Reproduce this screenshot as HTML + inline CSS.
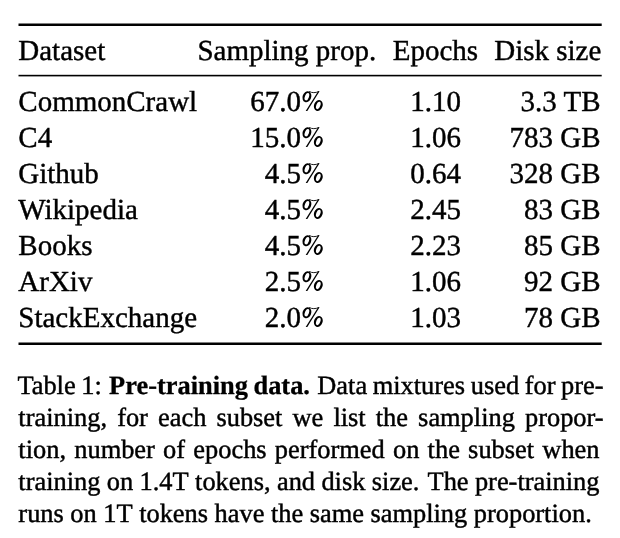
<!DOCTYPE html>
<html><head><meta charset="utf-8"><style>
html,body{margin:0;padding:0;background:#fff;}
body{width:620px;height:538px;overflow:hidden;}
svg{display:block;will-change:transform;}
text{font-family:"Liberation Serif",serif;fill:#000;stroke:#000;text-rendering:geometricPrecision;white-space:pre;}
.b{font-weight:bold;stroke-width:0.3px;}
</style></head><body>
<svg width="620" height="538" viewBox="0 0 620 538">

<rect x="18.5" y="23.5" width="583.2" height="2.5" fill="#000"/>
<rect x="18.5" y="74.8" width="583.2" height="1.6" fill="#000"/>
<rect x="18.5" y="342.5" width="583.2" height="2.5" fill="#000"/>
<g font-size="29.0" stroke-width="0.42">
<text x="18.30" y="59.80">Dataset</text>
<text x="197.40" y="59.80">Sampling prop.</text>
<text x="392.70" y="59.80">Epochs</text>
<text x="494.20" y="59.80">Disk size</text>
<text x="18.30" y="111.00">CommonCrawl</text>
<text x="301.10" y="111.00" text-anchor="end">67.0</text>
<g transform="translate(300.40 111.00)">
<g transform="rotate(20 6.5 -14.3)"><path fill-rule="evenodd" d="M2.20,-14.3 A4.3,5.6 0 1,0 10.80,-14.3 A4.3,5.6 0 1,0 2.20,-14.3 Z M4.50,-14.3 A2.0,3.9 0 1,0 8.50,-14.3 A2.0,3.9 0 1,0 4.50,-14.3 Z"/></g>
<g transform="rotate(20 17.9 -5.6)"><path fill-rule="evenodd" d="M13.60,-5.6 A4.3,5.6 0 1,0 22.20,-5.6 A4.3,5.6 0 1,0 13.60,-5.6 Z M15.90,-5.6 A2.0,3.9 0 1,0 19.90,-5.6 A2.0,3.9 0 1,0 15.90,-5.6 Z"/></g>
<path d="M5.3,0.1 L6.9,0.1 L19.2,-19.7 L17.7,-19.8 Z"/>
<path d="M8.8,-19.6 C11.5,-17.9 15.2,-18.0 18.4,-19.5" fill="none" stroke="#000" stroke-width="0.9"/>
</g>
<text x="435.60" y="111.00" text-anchor="middle">1.10</text>
<text x="600.50" y="111.00" text-anchor="end">3.3 TB</text>
<text x="18.30" y="147.00">C4</text>
<text x="301.10" y="147.00" text-anchor="end">15.0</text>
<g transform="translate(300.40 147.00)">
<g transform="rotate(20 6.5 -14.3)"><path fill-rule="evenodd" d="M2.20,-14.3 A4.3,5.6 0 1,0 10.80,-14.3 A4.3,5.6 0 1,0 2.20,-14.3 Z M4.50,-14.3 A2.0,3.9 0 1,0 8.50,-14.3 A2.0,3.9 0 1,0 4.50,-14.3 Z"/></g>
<g transform="rotate(20 17.9 -5.6)"><path fill-rule="evenodd" d="M13.60,-5.6 A4.3,5.6 0 1,0 22.20,-5.6 A4.3,5.6 0 1,0 13.60,-5.6 Z M15.90,-5.6 A2.0,3.9 0 1,0 19.90,-5.6 A2.0,3.9 0 1,0 15.90,-5.6 Z"/></g>
<path d="M5.3,0.1 L6.9,0.1 L19.2,-19.7 L17.7,-19.8 Z"/>
<path d="M8.8,-19.6 C11.5,-17.9 15.2,-18.0 18.4,-19.5" fill="none" stroke="#000" stroke-width="0.9"/>
</g>
<text x="435.60" y="147.00" text-anchor="middle">1.06</text>
<text x="600.50" y="147.00" text-anchor="end">783 GB</text>
<text x="18.30" y="183.00">Github</text>
<text x="301.10" y="183.00" text-anchor="end">4.5</text>
<g transform="translate(300.40 183.00)">
<g transform="rotate(20 6.5 -14.3)"><path fill-rule="evenodd" d="M2.20,-14.3 A4.3,5.6 0 1,0 10.80,-14.3 A4.3,5.6 0 1,0 2.20,-14.3 Z M4.50,-14.3 A2.0,3.9 0 1,0 8.50,-14.3 A2.0,3.9 0 1,0 4.50,-14.3 Z"/></g>
<g transform="rotate(20 17.9 -5.6)"><path fill-rule="evenodd" d="M13.60,-5.6 A4.3,5.6 0 1,0 22.20,-5.6 A4.3,5.6 0 1,0 13.60,-5.6 Z M15.90,-5.6 A2.0,3.9 0 1,0 19.90,-5.6 A2.0,3.9 0 1,0 15.90,-5.6 Z"/></g>
<path d="M5.3,0.1 L6.9,0.1 L19.2,-19.7 L17.7,-19.8 Z"/>
<path d="M8.8,-19.6 C11.5,-17.9 15.2,-18.0 18.4,-19.5" fill="none" stroke="#000" stroke-width="0.9"/>
</g>
<text x="435.60" y="183.00" text-anchor="middle">0.64</text>
<text x="600.50" y="183.00" text-anchor="end">328 GB</text>
<text x="18.30" y="219.00">Wikipedia</text>
<text x="301.10" y="219.00" text-anchor="end">4.5</text>
<g transform="translate(300.40 219.00)">
<g transform="rotate(20 6.5 -14.3)"><path fill-rule="evenodd" d="M2.20,-14.3 A4.3,5.6 0 1,0 10.80,-14.3 A4.3,5.6 0 1,0 2.20,-14.3 Z M4.50,-14.3 A2.0,3.9 0 1,0 8.50,-14.3 A2.0,3.9 0 1,0 4.50,-14.3 Z"/></g>
<g transform="rotate(20 17.9 -5.6)"><path fill-rule="evenodd" d="M13.60,-5.6 A4.3,5.6 0 1,0 22.20,-5.6 A4.3,5.6 0 1,0 13.60,-5.6 Z M15.90,-5.6 A2.0,3.9 0 1,0 19.90,-5.6 A2.0,3.9 0 1,0 15.90,-5.6 Z"/></g>
<path d="M5.3,0.1 L6.9,0.1 L19.2,-19.7 L17.7,-19.8 Z"/>
<path d="M8.8,-19.6 C11.5,-17.9 15.2,-18.0 18.4,-19.5" fill="none" stroke="#000" stroke-width="0.9"/>
</g>
<text x="435.60" y="219.00" text-anchor="middle">2.45</text>
<text x="600.50" y="219.00" text-anchor="end">83 GB</text>
<text x="18.30" y="255.00">Books</text>
<text x="301.10" y="255.00" text-anchor="end">4.5</text>
<g transform="translate(300.40 255.00)">
<g transform="rotate(20 6.5 -14.3)"><path fill-rule="evenodd" d="M2.20,-14.3 A4.3,5.6 0 1,0 10.80,-14.3 A4.3,5.6 0 1,0 2.20,-14.3 Z M4.50,-14.3 A2.0,3.9 0 1,0 8.50,-14.3 A2.0,3.9 0 1,0 4.50,-14.3 Z"/></g>
<g transform="rotate(20 17.9 -5.6)"><path fill-rule="evenodd" d="M13.60,-5.6 A4.3,5.6 0 1,0 22.20,-5.6 A4.3,5.6 0 1,0 13.60,-5.6 Z M15.90,-5.6 A2.0,3.9 0 1,0 19.90,-5.6 A2.0,3.9 0 1,0 15.90,-5.6 Z"/></g>
<path d="M5.3,0.1 L6.9,0.1 L19.2,-19.7 L17.7,-19.8 Z"/>
<path d="M8.8,-19.6 C11.5,-17.9 15.2,-18.0 18.4,-19.5" fill="none" stroke="#000" stroke-width="0.9"/>
</g>
<text x="435.60" y="255.00" text-anchor="middle">2.23</text>
<text x="600.50" y="255.00" text-anchor="end">85 GB</text>
<text x="18.30" y="291.00">ArXiv</text>
<text x="301.10" y="291.00" text-anchor="end">2.5</text>
<g transform="translate(300.40 291.00)">
<g transform="rotate(20 6.5 -14.3)"><path fill-rule="evenodd" d="M2.20,-14.3 A4.3,5.6 0 1,0 10.80,-14.3 A4.3,5.6 0 1,0 2.20,-14.3 Z M4.50,-14.3 A2.0,3.9 0 1,0 8.50,-14.3 A2.0,3.9 0 1,0 4.50,-14.3 Z"/></g>
<g transform="rotate(20 17.9 -5.6)"><path fill-rule="evenodd" d="M13.60,-5.6 A4.3,5.6 0 1,0 22.20,-5.6 A4.3,5.6 0 1,0 13.60,-5.6 Z M15.90,-5.6 A2.0,3.9 0 1,0 19.90,-5.6 A2.0,3.9 0 1,0 15.90,-5.6 Z"/></g>
<path d="M5.3,0.1 L6.9,0.1 L19.2,-19.7 L17.7,-19.8 Z"/>
<path d="M8.8,-19.6 C11.5,-17.9 15.2,-18.0 18.4,-19.5" fill="none" stroke="#000" stroke-width="0.9"/>
</g>
<text x="435.60" y="291.00" text-anchor="middle">1.06</text>
<text x="600.50" y="291.00" text-anchor="end">92 GB</text>
<text x="18.30" y="327.00">StackExchange</text>
<text x="301.10" y="327.00" text-anchor="end">2.0</text>
<g transform="translate(300.40 327.00)">
<g transform="rotate(20 6.5 -14.3)"><path fill-rule="evenodd" d="M2.20,-14.3 A4.3,5.6 0 1,0 10.80,-14.3 A4.3,5.6 0 1,0 2.20,-14.3 Z M4.50,-14.3 A2.0,3.9 0 1,0 8.50,-14.3 A2.0,3.9 0 1,0 4.50,-14.3 Z"/></g>
<g transform="rotate(20 17.9 -5.6)"><path fill-rule="evenodd" d="M13.60,-5.6 A4.3,5.6 0 1,0 22.20,-5.6 A4.3,5.6 0 1,0 13.60,-5.6 Z M15.90,-5.6 A2.0,3.9 0 1,0 19.90,-5.6 A2.0,3.9 0 1,0 15.90,-5.6 Z"/></g>
<path d="M5.3,0.1 L6.9,0.1 L19.2,-19.7 L17.7,-19.8 Z"/>
<path d="M8.8,-19.6 C11.5,-17.9 15.2,-18.0 18.4,-19.5" fill="none" stroke="#000" stroke-width="0.9"/>
</g>
<text x="435.60" y="327.00" text-anchor="middle">1.03</text>
<text x="600.50" y="327.00" text-anchor="end">78 GB</text>
</g>
<g font-size="26.4" stroke-width="0.45">
<text x="17.40" y="393.90">Table</text>
<text x="81.25" y="393.90">1:</text>
<text x="109.10" y="393.90" class="b">Pre-training</text>
<text x="253.50" y="393.90" class="b">data.</text>
<text x="317.29" y="393.90">Data</text>
<text x="372.73" y="393.90">mixtures</text>
<text x="470.71" y="393.90">used</text>
<text x="524.70" y="393.90">for</text>
<text x="561.10" y="393.90">pre-</text>
<text x="18.35" y="425.87">training,</text>
<text x="117.13" y="425.87">for</text>
<text x="158.01" y="425.87">each</text>
<text x="216.44" y="425.87">subset</text>
<text x="292.52" y="425.87">we</text>
<text x="333.40" y="425.87">list</text>
<text x="375.77" y="425.87">the</text>
<text x="418.12" y="425.87">sampling</text>
<text x="524.98" y="425.87">propor-</text>
<text x="18.35" y="457.84">tion,</text>
<text x="74.24" y="457.84">number</text>
<text x="163.10" y="457.84">of</text>
<text x="193.32" y="457.84">epochs</text>
<text x="274.85" y="457.84">performed</text>
<text x="393.00" y="457.84">on</text>
<text x="427.62" y="457.84">the</text>
<text x="468.11" y="457.84">subset</text>
<text x="542.33" y="457.84">when</text>
<text x="18.35" y="489.81">training</text>
<text x="106.82" y="489.81">on</text>
<text x="139.58" y="489.81">1.4T</text>
<text x="195.07" y="489.81">tokens,</text>
<text x="276.94" y="489.81">and</text>
<text x="321.43" y="489.81">disk</text>
<text x="371.80" y="489.81">size.</text>
<text x="427.52" y="489.81">The</text>
<text x="474.92" y="489.81">pre-training</text>
<text x="18.37" y="521.78">runs</text>
<text x="70.35" y="521.78">on</text>
<text x="103.27" y="521.78">1T</text>
<text x="139.13" y="521.78">tokens</text>
<text x="214.57" y="521.78">have</text>
<text x="270.93" y="521.78">the</text>
<text x="309.71" y="521.78">same</text>
<text x="370.47" y="521.78">sampling</text>
<text x="473.77" y="521.78">proportion.</text>
</g>
</svg>
</body></html>
